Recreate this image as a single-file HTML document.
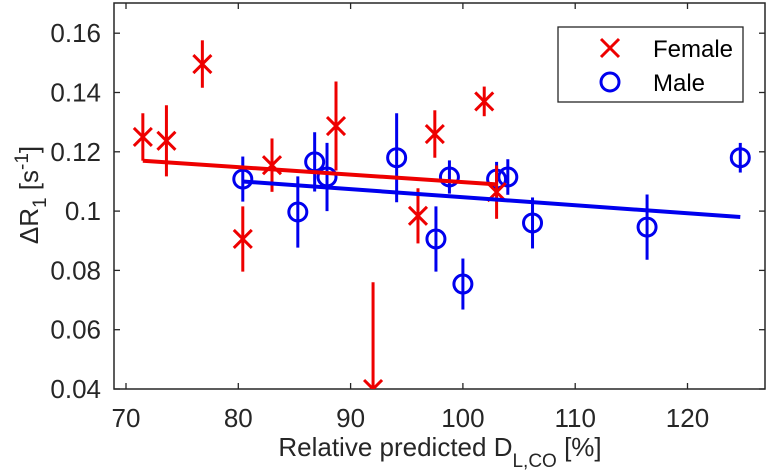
<!DOCTYPE html>
<html><head><meta charset="utf-8"><style>
html,body{margin:0;padding:0;background:#fff;}
svg{display:block;font-family:"Liberation Sans",Arial,sans-serif;}
</style></head><body>
<svg id="chart" width="770" height="475" viewBox="0 0 770 475"></svg>
<script>
const xTicks=[70,80,90,100,110,120];
const yTicks=[0.04,0.06,0.08,0.1,0.12,0.14,0.16];
const yTickLabels=["0.04","0.06","0.08","0.1","0.12","0.14","0.16"];
const femaleX=[71.5,73.6,76.8,80.4,83.0,88.7,92.0,96.0,97.5,101.9,103.0];
const femaleY=[0.125,0.1237,0.1496,0.0906,0.1155,0.1287,0.040,0.0984,0.126,0.137,0.1064];
const femaleErr=[0.008,0.012,0.008,0.011,0.009,0.015,0.036,0.0093,0.008,0.005,0.009];
const maleX=[80.4,85.3,86.8,87.9,94.1,98.8,97.6,100.0,103.0,104.0,106.2,116.4,124.7];
const maleY=[0.1108,0.0997,0.1166,0.1115,0.118,0.1115,0.0906,0.0754,0.1108,0.1115,0.096,0.0946,0.118];
const maleErr=[0.0076,0.012,0.01,0.0115,0.015,0.0056,0.011,0.0086,0.0058,0.006,0.0086,0.011,0.005];
const femaleFitX=[71.5,103.0];
const femaleFitY=[0.117,0.109];
const maleFitX=[80.4,124.7];
const maleFitY=[0.110,0.098];

const L=114,R=765,T=3,B=389;
const sx=v=>126+(v-70)*11.23;
const sy=v=>389-(v-0.04)*2965;
const svg=document.getElementById('chart');
const NS='http://www.w3.org/2000/svg';
function mk(tag,attrs,parent){const e=document.createElementNS(NS,tag);for(const k in attrs)e.setAttribute(k,attrs[k]);(parent||svg).appendChild(e);return e;}

const defs=mk('defs',{});
const cp=mk('clipPath',{id:'plotclip'},defs);
mk('rect',{x:L,y:T,width:R-L,height:B-T},cp);

let ax=mk('g',{});


let frame=mk('rect',{x:L,y:T,width:R-L,height:B-T,fill:'none',stroke:'#262626','stroke-width':1.5},ax);


xTicks.forEach(t=>{
  const x=sx(t);
  mk('line',{x1:x,x2:x,y1:B,y2:B-6,stroke:'#262626','stroke-width':1.3},ax);
  mk('line',{x1:x,x2:x,y1:T,y2:T+6,stroke:'#262626','stroke-width':1.3},ax);
  const tx=mk('text',{x:x,y:427,'text-anchor':'middle','font-size':26,fill:'#262626'},ax);
  tx.textContent=t;
  
  
});
yTicks.forEach((t,i)=>{
  const y=sy(t);
  mk('line',{x1:L,x2:L+6,y1:y,y2:y,stroke:'#262626','stroke-width':1.3},ax);
  mk('line',{x1:R,x2:R-6,y1:y,y2:y,stroke:'#262626','stroke-width':1.3},ax);
  const tx=mk('text',{x:101,y:y+9,'text-anchor':'end','font-size':26,fill:'#262626'},ax);
  tx.textContent=yTickLabels[i];
  
  
});
let xl=mk('text',{x:440,y:456,'text-anchor':'middle','font-size':26,fill:'#262626'});
xl.innerHTML='Relative predicted D<tspan font-size="19" dy="11">L,CO</tspan><tspan dy="-11"> [%]</tspan>';


let yl=mk('text',{x:0,y:0,'text-anchor':'middle','font-size':26,fill:'#262626',transform:'translate(38,195) rotate(-90)'});
yl.innerHTML='ΔR<tspan font-size="19" dy="8">1</tspan><tspan dy="-8"> [s</tspan><tspan font-size="19" dy="-10">-1</tspan><tspan dy="10">]</tspan>';



const plot=mk('g',{'clip-path':'url(#plotclip)'});


function fit(xs,ys,col,name){
  const l=mk('line',{x1:sx(xs[0]),y1:sy(ys[0]),x2:sx(xs[1]),y2:sy(ys[1]),stroke:col,'stroke-width':4},plot);
  
  
}
function series(xs,ys,es,col,type,name){
  const g=mk('g',{},plot);
  
  
  xs.forEach((xv,i)=>{
    const x=sx(xv),y=sy(ys[i]);
    mk('line',{x1:x,x2:x,y1:sy(ys[i]-es[i]),y2:sy(ys[i]+es[i]),stroke:col,'stroke-width':3},g);
    let m;
    if(type==='x'){
      m=mk('path',{d:`M${x-9},${y-9}L${x+9},${y+9}M${x-9},${y+9}L${x+9},${y-9}`,stroke:col,'stroke-width':3,fill:'none'},g);
    }else{
      m=mk('circle',{cx:x,cy:y,r:9,stroke:col,'stroke-width':3,fill:'none'},g);
    }
    
    
  });
}
series(maleX,maleY,maleErr,'#0000ee','o','male-series');
series(femaleX,femaleY,femaleErr,'#ee0000','x','female-series');
fit(femaleFitX,femaleFitY,'#ee0000','female-fit-line');
fit(maleFitX,maleFitY,'#0000ee','male-fit-line');

const lg=mk('g',{});


mk('rect',{x:558,y:27,width:185,height:75,fill:'#fff',stroke:'#262626','stroke-width':1.3},lg);
mk('path',{d:'M601,39L619,57M601,57L619,39',stroke:'#ee0000','stroke-width':3,fill:'none'},lg);
mk('circle',{cx:610,cy:82,r:9,stroke:'#0000ee','stroke-width':3,fill:'none'},lg);
let t1=mk('text',{x:653,y:57,'font-size':24,fill:'#000'},lg);t1.textContent='Female';


let t2=mk('text',{x:653,y:91,'font-size':24,fill:'#000'},lg);t2.textContent='Male';


</script>
</body></html>
